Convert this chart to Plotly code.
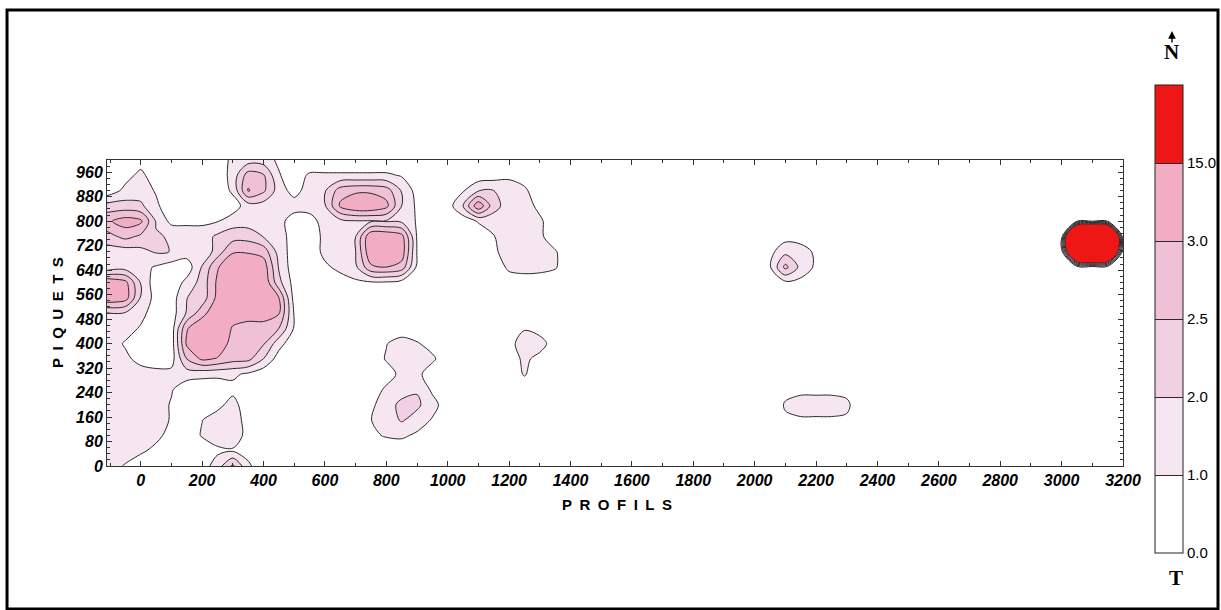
import numpy as np
import plotly.graph_objects as go

# ---------------- colour classes (legend of the map) ----------------
level_values = [0.0, 1.0, 2.0, 2.5, 3.0, 15.0]
level_labels = ["0.0", "1.0", "2.0", "2.5", "3.0", "15.0"]
band_colors = ["#ffffff", "#f6e6f1", "#f1d0e3", "#f0c0d6", "#f2adc5", "#ef1616"]

# ---------------- axes ----------------
x_ticks = [0, 200, 400, 600, 800, 1000, 1200, 1400, 1600, 1800, 2000, 2200,
           2400, 2600, 2800, 3000, 3200]
y_ticks = [0, 80, 160, 240, 320, 400, 480, 560, 640, 720, 800, 880, 960]

# ---------------- gridded values ----------------
background_value = 0.3

west_x = [-110, -50, 0, 50, 100, 150, 200, 250, 300, 350, 400, 450, 500, 550, 600, 650,
          700, 750, 800, 850, 900, 950, 1000, 1050, 1100, 1150, 1200, 1250, 1300, 1350, 1400, 1450]
west_y = [1000, 950, 900, 850, 800, 750, 700, 650, 600, 550, 500,
          450, 400, 350, 300, 250, 200, 150, 100, 50, 0]
west_z = [
    [0.3,0.3,0.5,0.3,0.3,0.3,0.3,0.3, 1.3,1.5,1.5,0.8,0.2,0.0,0.0,0.0, 0.0,0.0,0.0,0.0,0.3,0.3,0.3,0.3, 0.3,0.3,0.3,0.3,0.3,0.3,0.3,0.3],
    [0.3,0.6,1.3,0.3,0.3,0.3,0.3,0.3, 1.4,2.75,2.55,1.1,0.3,1.2,1.2,1.2, 1.2,1.2,1.2,0.9,0.3,0.3,0.3,0.3, 0.4,0.5,0.8,0.5,0.3,0.3,0.3,0.3],
    [0.3,1.3,1.5,0.9,0.3,0.3,0.3,0.3, 1.2,4.2,2.6,1.5,0.6,1.5,1.9,2.75, 2.9,2.9,2.75,1.9,0.6,0.3,0.3,0.9, 1.9,2.0,1.5,1.2,0.3,0.3,0.3,0.3],
    [2.2,2.2,2.1,1.2,0.3,0.3,0.3,0.3, 0.5,1.5,1.5,1.5,1.5,1.5,1.9,5.4, 13.8,13.8,6.6,2.0,0.8,0.3,0.5,2.0, 12.6,2.2,1.5,1.5,0.7,0.3,0.3,0.3],
    [2.9,9.0,5.4,1.9,0.7,0.8,0.8,0.95, 1.5,1.5,1.5,1.4,0.4,0.5,1.5,1.7, 1.9,1.9,1.9,1.8,0.9,0.3,0.3,0.4, 1.1,1.5,1.5,1.5,1.2,0.3,0.3,0.3],
    [2.3,2.65,2.4,2.05,1.9,1.5,1.5,2.1, 2.3,2.3,1.95,1.5,0.5,0.3,1.3,1.5, 1.98,13.8,13.8,7.8,0.9,0.3,0.3,0.3, 0.3,0.95,1.5,1.5,1.2,0.4,0.3,0.3],
    [1.5,1.5,1.7,2.05,1.98,1.5,1.1,2.25, 2.95,2.95,2.8,1.6,0.5,0.3,1.3,1.5, 1.98,13.8,13.8,10.2,0.95,0.3,0.3,0.3, 0.3,0.8,1.5,1.5,1.5,1.1,0.3,0.3],
    [1.2,1.5,1.3,0.9,0.5,0.4,2.05,2.95, 13.8,13.8,10.2,1.9,0.4,0.3,0.8,1.3, 1.8,2.9,3.05,2.8,0.8,0.3,0.3,0.3, 0.3,0.4,1.2,1.3,1.3,1.1,0.3,0.3],
    [13.8,6.6,1.9,0.4,0.3,1.3,2.2,5.4, 13.8,13.8,13.8,2.15,0.6,0.3,0.3,0.5, 0.8,0.9,0.9,0.6,0.3,0.3,0.3,0.3, 0.3,0.3,0.5,0.6,0.5,0.4,0.3,0.3],
    [13.8,9.0,1.9,0.6,0.5,1.98,2.2,6.6, 13.8,13.8,13.8,3.0,0.6,0.3,0.3,0.3, 0.3,0.3,0.3,0.3,0.3,0.3,0.3,0.3, 0.3,0.3,0.3,0.3,0.3,0.3,0.3,0.3],
    [1.98,1.9,1.3,0.5,0.5,2.05,2.8,13.8, 9.0,10.2,9.0,4.2,0.9,0.3,0.3,0.3, 0.3,0.3,0.3,0.3,0.3,0.3,0.3,0.3, 0.3,0.3,0.3,0.3,0.3,0.3,0.3,0.3],
    [1.5,1.4,0.9,0.3,0.5,2.95,13.8,13.8, 2.95,2.75,2.8,2.5,0.9,0.3,0.3,0.3, 0.3,0.3,0.3,0.3,0.3,0.3,0.3,0.3, 0.3,0.3,0.3,0.9,0.6,0.3,0.3,0.3],
    [1.5,0.9,0.3,0.3,0.5,5.4,13.8,13.8, 2.75,2.75,2.55,1.4,0.3,0.3,0.3,0.3, 0.3,0.3,0.95,1.5,1.1,0.6,0.3,0.3, 0.3,0.3,0.6,1.6,1.4,0.5,0.3,0.3],
    [1.5,1.2,0.7,0.5,0.6,2.5,5.4,2.95, 2.7,2.65,1.98,0.5,0.3,0.3,0.3,0.3, 0.3,0.3,1.1,1.5,1.5,1.2,0.3,0.3, 0.3,0.3,0.5,1.2,0.7,0.3,0.3,0.3],
    [1.5,1.5,1.4,1.3,1.3,1.5,1.3,1.25, 1.2,0.8,0.3,0.3,0.3,0.3,0.3,0.3, 0.3,0.3,0.5,1.3,1.3,0.4,0.3,0.3, 0.3,0.3,0.3,1.1,0.3,0.3,0.3,0.3],
    [1.5,1.5,1.5,1.5,1.1,0.3,0.3,0.3, 0.7,0.3,0.3,0.3,0.3,0.3,0.3,0.3, 0.3,0.4,1.2,1.5,1.9,0.8,0.3,0.3, 0.3,0.3,0.3,0.3,0.3,0.3,0.3,0.3],
    [1.5,1.5,1.5,1.5,0.9,0.3,0.3,0.7, 1.4,0.3,0.3,0.3,0.3,0.3,0.3,0.3, 0.3,0.8,1.5,2.15,2.1,1.4,0.4,0.3, 0.3,0.3,0.3,0.3,0.3,0.3,0.3,0.3],
    [1.5,1.5,1.5,1.5,0.9,0.3,0.98,1.5, 1.5,0.6,0.3,0.3,0.3,0.3,0.3,0.3, 0.3,0.98,1.5,2.05,1.6,0.9,0.3,0.3, 0.3,0.3,0.3,0.3,0.3,0.3,0.3,0.3],
    [1.5,1.5,1.5,1.3,0.6,0.3,1.1,1.5, 1.5,0.7,0.3,0.3,0.3,0.3,0.3,0.3, 0.3,0.8,1.1,1.2,0.8,0.3,0.3,0.3, 0.3,0.3,0.3,0.3,0.3,0.3,0.3,0.3],
    [1.5,1.5,1.2,0.7,0.3,0.3,0.3,0.8, 0.9,0.6,0.3,0.3,0.3,0.3,0.3,0.3, 0.3,0.3,0.3,0.3,0.3,0.3,0.3,0.3, 0.3,0.3,0.3,0.3,0.3,0.3,0.3,0.3],
    [1.5,0.9,0.3,0.3,0.3,0.3,0.5,1.5, 2.6,1.2,0.3,0.3,0.3,0.3,0.3,0.3, 0.3,0.3,0.3,0.3,0.3,0.3,0.3,0.3, 0.3,0.3,0.3,0.3,0.3,0.3,0.3,0.3],
]

mid_x = [2000, 2050, 2100, 2150, 2200, 2250, 2300, 2350, 2400]
mid_y = [800, 750, 700, 650, 600, 550, 500, 450, 400, 350, 300, 250, 200, 150, 100]
mid_z = [
    [0.3,0.3,0.3,0.3,0.3,0.3,0.3,0.3,0.3],
    [0.3,0.3,0.6,0.5,0.3,0.3,0.3,0.3,0.3],
    [0.3,0.7,1.7,1.5,0.8,0.3,0.3,0.3,0.3],
    [0.3,0.9,2.65,1.7,0.8,0.3,0.3,0.3,0.3],
    [0.3,0.3,0.8,0.7,0.3,0.3,0.3,0.3,0.3],
    [0.3,0.3,0.3,0.3,0.3,0.3,0.3,0.3,0.3],
    [0.3,0.3,0.3,0.3,0.3,0.3,0.3,0.3,0.3],
    [0.3,0.3,0.3,0.3,0.3,0.3,0.3,0.3,0.3],
    [0.3,0.3,0.3,0.3,0.3,0.3,0.3,0.3,0.3],
    [0.3,0.3,0.3,0.3,0.3,0.3,0.3,0.3,0.3],
    [0.3,0.3,0.3,0.3,0.3,0.3,0.3,0.3,0.3],
    [0.3,0.3,0.7,0.7,0.7,0.7,0.7,0.3,0.3],
    [0.3,0.3,1.1,1.5,1.5,1.5,1.2,0.3,0.3],
    [0.3,0.3,0.85,0.85,0.85,0.85,0.85,0.3,0.3],
    [0.3,0.3,0.3,0.3,0.3,0.3,0.3,0.3,0.3],
]

east_x = [2950, 3000, 3050, 3100, 3150, 3200]
east_y = [850, 800, 750, 700, 650, 600]
east_z = [
    [0.3,0.3,0.3,0.3,0.3,0.3],
    [0.3,0.3,0.95,0.97,0.95,0.3],
    [0.3,0.3,210.0,270.0,210.0,0.3],
    [0.3,0.3,150.0,200.0,150.0,0.3],
    [0.3,0.3,0.3,0.3,0.3,0.3],
    [0.3,0.3,0.3,0.3,0.3,0.3],
]

# ---------------- assemble the full grid ----------------
grid_x = [-110] + list(range(-50, 3201, 50))
grid_y = list(range(0, 1001, 50))
Z = np.full((len(grid_y), len(grid_x)), background_value)


def place(px, py, pz):
    for r, yv in enumerate(py):
        i = grid_y.index(yv)
        for c, xv in enumerate(px):
            Z[i, grid_x.index(xv)] = pz[r][c]


place(west_x, west_y, west_z)
place(mid_x, mid_y, mid_z)
place(east_x, east_y, east_z)

# classes are unevenly spaced: map values onto class index so bands are equal on the bar
K = np.interp(Z, level_values + [315.0], list(range(len(level_values))) + [25.0])

stops = [0.0, 0.1, 0.3, 0.5, 0.7, 0.9, 1.0]
colorscale = []
for i, col in enumerate(band_colors):
    colorscale.append([stops[i], col])
    colorscale.append([stops[i + 1], col])

fig = go.Figure()
fig.add_trace(go.Contour(
    x=grid_x, y=grid_y, z=K,
    autocontour=False,
    contours=dict(start=1, end=5, size=1, coloring="fill", showlines=True),
    line=dict(color="#2a2a2a", width=1, smoothing=0.9),
    colorscale=colorscale,
    zmin=0, zmax=6,
    hoverinfo="skip",
    colorbar=dict(
        x=1.0315, xanchor="left", y=0.4804, yanchor="middle",
        len=1.529, lenmode="fraction", thickness=28, thicknessmode="pixels",
        xpad=0, ypad=0, outlinewidth=1, outlinecolor="#222",
        tickmode="array", tickvals=[0, 1, 2, 3, 4, 5], ticktext=level_labels,
        ticks="", tickfont=dict(family="Liberation Sans", size=15, color="black"),
    ),
))

tickfont = dict(family="Liberation Sans", size=16, color="black", weight="bold", style="italic")
fig.update_xaxes(
    range=[-110, 3200], tickmode="array", tickvals=x_ticks, ticks="inside", ticklen=5,
    tickcolor="#333", showline=True, linecolor="#333", linewidth=1, mirror="ticks",
    showgrid=False, zeroline=False, tickfont=tickfont,
    minor=dict(dtick=100, tick0=0, ticks="inside", ticklen=3, tickcolor="#333"),
)
fig.update_yaxes(
    range=[0, 1000], tickmode="array", tickvals=y_ticks, ticks="inside", ticklen=5,
    tickcolor="#333", showline=True, linecolor="#333", linewidth=1, mirror="ticks",
    showgrid=False, zeroline=False, tickfont=tickfont,
    minor=dict(dtick=20, tick0=0, ticks="inside", ticklen=3, tickcolor="#333"),
)

sp = "\u2002"
annotations = [
    dict(text=sp.join("PIQUETS"), x=-0.0492, y=0.5, xref="paper", yref="paper",
         xanchor="center", yanchor="middle", textangle=-90, showarrow=False,
         font=dict(family="Liberation Sans", size=15, color="black", weight="bold")),
    dict(text=sp.join("PROFILS"), x=0.502, y=-0.127, xref="paper", yref="paper",
         xanchor="center", yanchor="middle", showarrow=False,
         font=dict(family="Liberation Sans", size=15, color="black", weight="bold")),
    dict(text="N", x=1.0482, y=1.353, xref="paper", yref="paper",
         xanchor="center", yanchor="middle", showarrow=False,
         font=dict(family="Liberation Serif", size=21, color="black", weight="bold")),
    dict(text="T", x=1.052, y=-0.366, xref="paper", yref="paper",
         xanchor="center", yanchor="middle", showarrow=False,
         font=dict(family="Liberation Serif", size=21, color="black", weight="bold")),
    dict(text="", x=1.0482, y=1.4216, xref="paper", yref="paper", showarrow=True,
         ax=0, ay=13, arrowhead=2, arrowsize=1.1, arrowwidth=1.4, arrowcolor="black"),
]

fig.update_layout(
    width=1221, height=610,
    margin=dict(l=107, r=98, t=160, b=144, autoexpand=False),
    paper_bgcolor="white", plot_bgcolor="white",
    showlegend=False,
    annotations=annotations,
    shapes=[dict(type="rect", xref="paper", yref="paper", x0=-0.0984, x1=1.0935,
                 y0=-0.4673, y1=1.490, line=dict(color="black", width=3),
                 fillcolor="rgba(0,0,0,0)", layer="above")],
)

fig.write_html("out.html")
